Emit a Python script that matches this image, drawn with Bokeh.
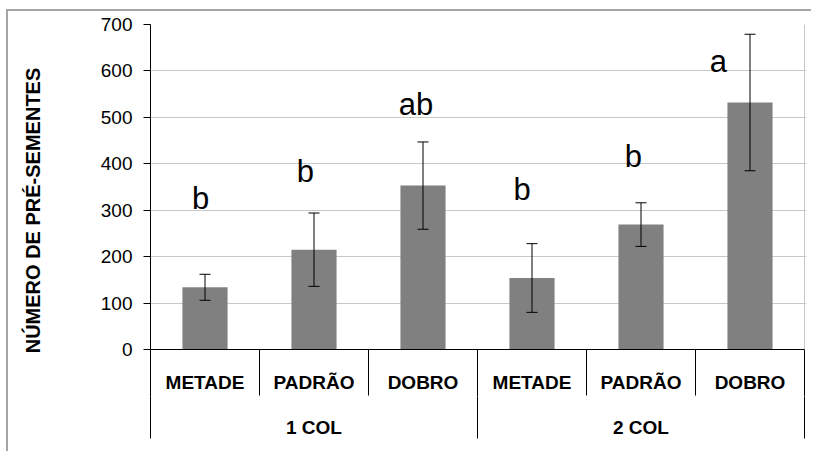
from bokeh.core.properties import value
from bokeh.embed import file_html
from bokeh.models import (ColumnDataSource, FixedTicker, LinearAxis, Range1d,
                          TeeHead, Whisker)
from bokeh.plotting import figure
from bokeh.resources import INLINE

# ---- data -------------------------------------------------------------
groups = ["1 COL", "2 COL"]
doses = ["METADE", "PADRÃO", "DOBRO"]
means = [134, 215, 353, 154, 269, 532]
errors = [28, 79, 94, 74, 47, 147]
letters = ["b", "b", "ab", "b", "b", "a"]
y_ticks = [0, 100, 200, 300, 400, 500, 600, 700]
y_label = "NÚMERO DE PRÉ-SEMENTES"

# ---- layout (page pixels) ---------------------------------------------
PAGE_W, PAGE_H = 813, 453
OX, OY = 8, 11                       # canvas origin inside the chart border
W, H = PAGE_W - OX, PAGE_H - OY
FRAME_L, FRAME_R, FRAME_T, FRAME_B = 150, 806, 24, 396
ZERO_ROW = 349                       # page row of the value axis zero
CAT_W = 109.0                        # width of one category slot
GROUP_SEP = 42                       # length of the group separators below the frame
n_cat = len(groups) * len(doses)
px_per_unit = (ZERO_ROW - FRAME_T) / y_ticks[-1]


def row(py):
    """page row -> value units"""
    return (ZERO_ROW - py) / px_per_unit


def col(px):
    """page column -> category units"""
    return (px - FRAME_L) / CAT_W


p = figure(width=W, height=H, output_backend="svg", toolbar_location=None,
           x_range=Range1d(0, col(FRAME_R)), y_range=Range1d(row(FRAME_B), y_ticks[-1]),
           x_axis_location=None,
           min_border_left=FRAME_L - OX, min_border_right=PAGE_W - FRAME_R,
           min_border_top=FRAME_T - OY, min_border_bottom=PAGE_H - FRAME_B)
p.outline_line_color = None
p.background_fill_color = "white"
p.border_fill_color = "white"
p.styles = {"margin-left": "6px", "margin-top": "9px",
            "border-left": "2px solid #a6a6a6", "border-top": "2px solid #a6a6a6"}

FONT = "Liberation Sans"
GRID = "#c8c8c8"

# value axis
ax = p.yaxis[0]
ax.ticker = FixedTicker(ticks=y_ticks)
ax.axis_line_color = "black"
ax.major_tick_line_color = "black"
ax.major_tick_out = 7
ax.major_tick_in = 0
ax.minor_tick_line_color = None
ax.major_label_standoff = 11
ax.major_label_text_font = FONT
ax.major_label_text_font_size = "19px"
ax.major_label_text_color = "black"
ax.axis_label = y_label
ax.axis_label_text_font = FONT
ax.axis_label_text_font_style = "bold"
ax.axis_label_text_font_size = "20px"
ax.axis_label_text_color = "black"
ax.axis_label_standoff = 54

p.xgrid.visible = False
p.ygrid.ticker = FixedTicker(ticks=y_ticks[1:])
p.ygrid.grid_line_color = GRID
p.ygrid.grid_line_width = 1

# right edge of the plotting area
p.segment(x0=[n_cat], y0=[0], x1=[n_cat], y1=[y_ticks[-1]], line_color=GRID, line_width=1)

# bars
centers = [i + 0.5 for i in range(n_cat)]
p.vbar(x=centers, top=means, bottom=0, width=0.414,
       fill_color="#808080", line_color=None)

# error bars
err_src = ColumnDataSource(dict(
    x=centers,
    upper=[m + e for m, e in zip(means, errors)],
    lower=[m - e for m, e in zip(means, errors)],
))
whisk = Whisker(base="x", upper="upper", lower="lower", source=err_src,
                line_color="black", line_width=1, level="overlay",
                upper_head=TeeHead(size=11, line_color="black", line_width=1),
                lower_head=TeeHead(size=11, line_color="black", line_width=1))
p.add_layout(whisk)

# category axis line and dose separators
p.segment(x0=[0], y0=[0], x1=[n_cat], y1=[0], line_color="black", line_width=1)
sep_x, sep_y1 = [], []
for i in range(1, n_cat + 1):
    sep_x.append(i)
    sep_y1.append(row(FRAME_B) if i % len(doses) == 0 else row(395))
p.segment(x0=sep_x, y0=[0] * len(sep_x), x1=sep_x, y1=sep_y1,
          line_color="black", line_width=1)

# dose labels
p.text(x=centers, y=[row(382)] * n_cat, text=doses * len(groups),
       text_align="center", text_baseline="alphabetic",
       text_font=value(FONT), text_font_style="bold", text_font_size="19px",
       text_color="black")

# group axis: group names under their doses, long separators between groups
group_centers = [len(doses) * (g + 0.5) for g in range(len(groups))]
group_edges = [len(doses) * g for g in range(len(groups) + 1)]
gax = LinearAxis(ticker=FixedTicker(ticks=group_centers, minor_ticks=group_edges),
                 major_label_overrides={c: g for c, g in zip(group_centers, groups)},
                 axis_line_color=None,
                 major_tick_line_color=None, major_tick_in=0, major_tick_out=0,
                 minor_tick_line_color="black", minor_tick_line_width=1,
                 minor_tick_in=0, minor_tick_out=GROUP_SEP,
                 major_label_standoff=20 - GROUP_SEP,
                 major_label_text_font=FONT, major_label_text_font_style="bold",
                 major_label_text_font_size="19px", major_label_text_color="black")
p.add_layout(gax, "below")

# significance letters above each bar
letter_dx = [-0.04, -0.08, -0.065, -0.09, -0.07, -0.29]
letter_y = [325, 384, 528, 345, 416, 621]
p.text(x=[c + d for c, d in zip(centers, letter_dx)], y=letter_y, text=letters,
       text_align="center", text_baseline="alphabetic",
       text_font=value(FONT), text_font_size="31px", text_color="black")

open("out.html", "w").write(file_html(p, INLINE))
